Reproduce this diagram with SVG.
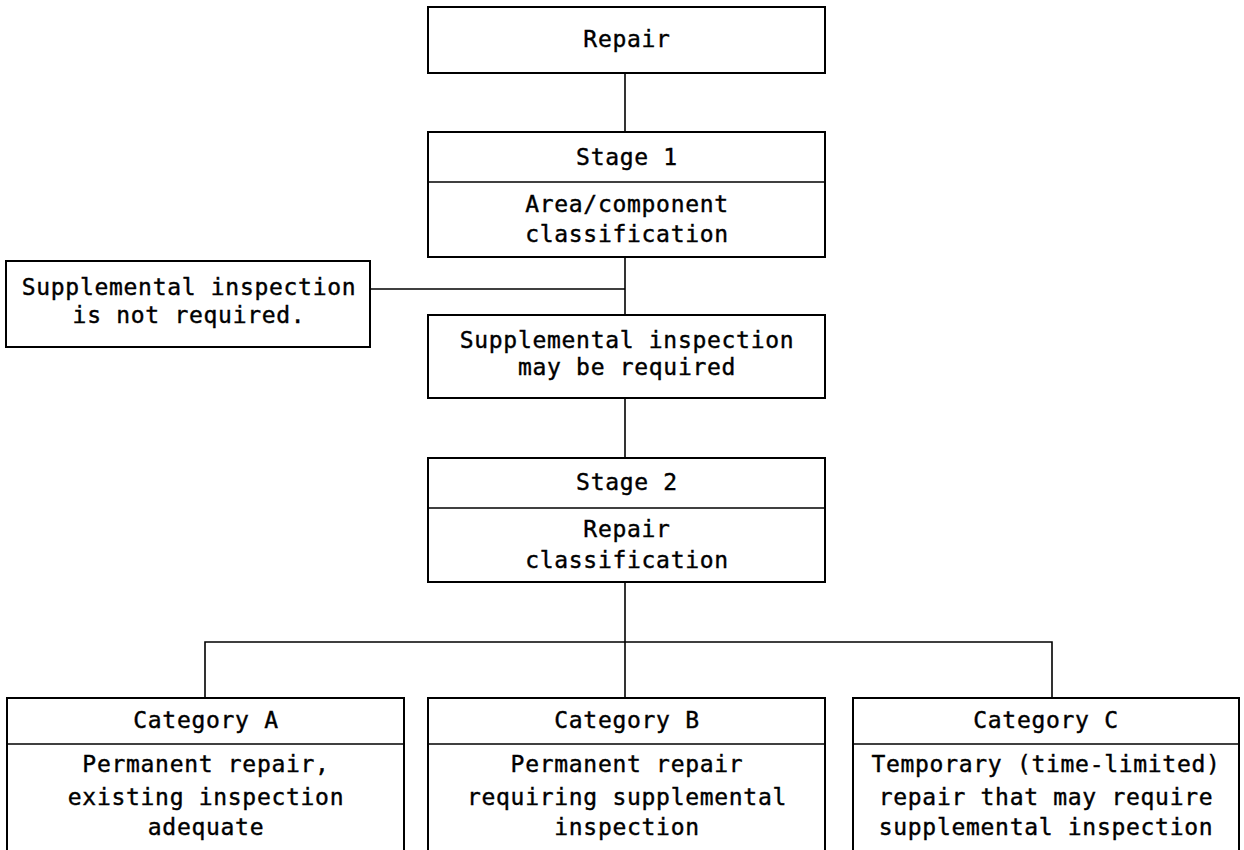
<svg xmlns="http://www.w3.org/2000/svg" width="1244" height="850" viewBox="0 0 1244 850">
<style>
.box{fill:#fff;stroke:#000;stroke-width:2}
.ln{fill:none;stroke:#000;stroke-width:1.6}
text{font-family:"DejaVu Sans Mono","Liberation Mono",monospace;font-size:23px;letter-spacing:0.7px;text-anchor:middle;fill:#000;stroke:#000;stroke-width:0.4}
</style>
<rect width="1244" height="850" fill="#fff"/>
<g id="connectors">
<line class="ln" x1="625" y1="73" x2="625" y2="132"/>
<line class="ln" x1="625" y1="257" x2="625" y2="315"/>
<line class="ln" x1="370" y1="289" x2="625" y2="289"/>
<line class="ln" x1="625" y1="398" x2="625" y2="458"/>
<line class="ln" x1="625" y1="582" x2="625" y2="698"/>
<polyline class="ln" points="205,698 205,642 1052,642 1052,698"/>
</g>
<g id="repair">
<rect class="box" x="428" y="7" width="397" height="66"/>
<text x="627" y="47">Repair</text>
</g>
<g id="stage1">
<rect class="box" x="428" y="132" width="397" height="125"/>
<line class="ln" x1="428" y1="182" x2="825" y2="182"/>
<text x="627" y="165">Stage 1</text>
<text x="627" y="212">Area/component</text>
<text x="627" y="242">classification</text>
</g>
<g id="not-required">
<rect class="box" x="6" y="261" width="364" height="86"/>
<text x="189" y="295">Supplemental inspection</text>
<text x="189" y="323">is not required.</text>
</g>
<g id="may-be-required">
<rect class="box" x="428" y="315" width="397" height="83"/>
<text x="627" y="348">Supplemental inspection</text>
<text x="627" y="375">may be required</text>
</g>
<g id="stage2">
<rect class="box" x="428" y="458" width="397" height="124"/>
<line class="ln" x1="428" y1="508" x2="825" y2="508"/>
<text x="627" y="490">Stage 2</text>
<text x="627" y="537">Repair</text>
<text x="627" y="568">classification</text>
</g>
<g id="category-a">
<rect class="box" x="7" y="698" width="397" height="160"/>
<line class="ln" x1="7" y1="744" x2="404" y2="744"/>
<text x="206" y="728">Category A</text>
<text x="206" y="772">Permanent repair,</text>
<text x="206" y="805">existing inspection</text>
<text x="206" y="835">adequate</text>
</g>
<g id="category-b">
<rect class="box" x="428" y="698" width="397" height="160"/>
<line class="ln" x1="428" y1="744" x2="825" y2="744"/>
<text x="627" y="728">Category B</text>
<text x="627" y="772">Permanent repair</text>
<text x="627" y="805">requiring supplemental</text>
<text x="627" y="835">inspection</text>
</g>
<g id="category-c">
<rect class="box" x="853" y="698" width="386" height="160"/>
<line class="ln" x1="853" y1="744" x2="1239" y2="744"/>
<text x="1046" y="728">Category C</text>
<text x="1046" y="772">Temporary (time-limited)</text>
<text x="1046" y="805">repair that may require</text>
<text x="1046" y="835">supplemental inspection</text>
</g>
</svg>
